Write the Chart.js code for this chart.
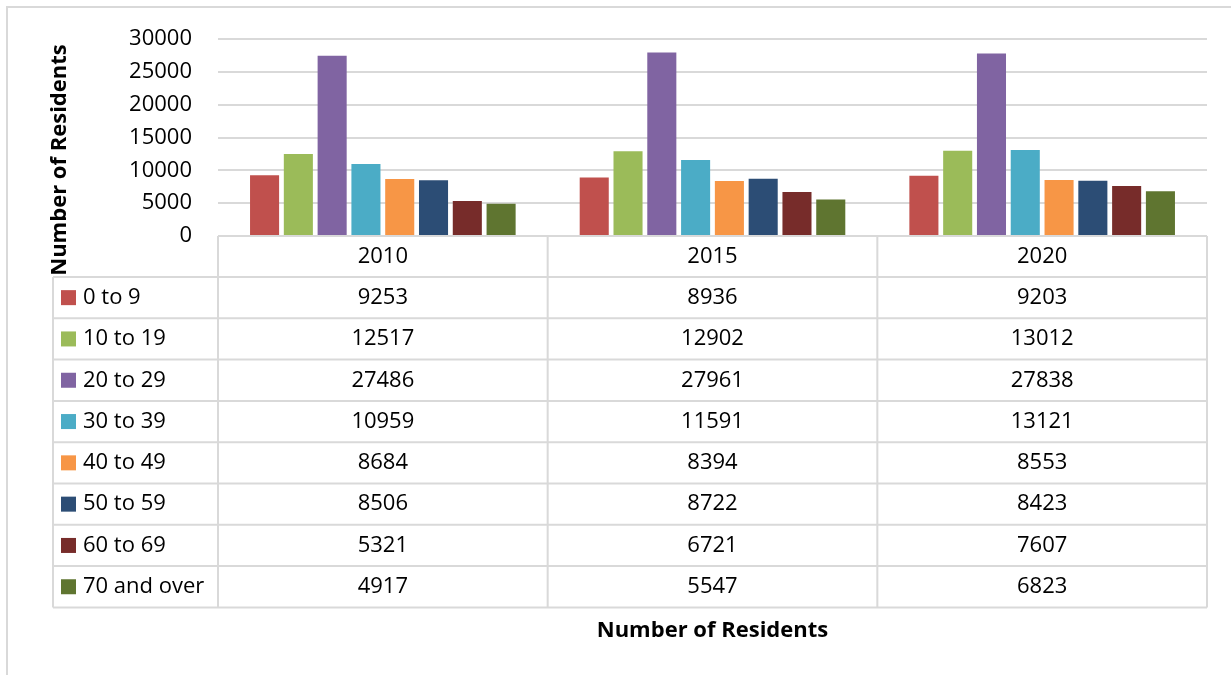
<!DOCTYPE html>
<html>
<head>
<meta charset="utf-8">
<script src="https://cdn.jsdelivr.net/npm/chart.js@4.4.0/dist/chart.umd.min.js"></script>
<style>
  html, body { margin: 0; padding: 0; background: #fff; }
  #wrap { position: relative; width: 1231px; height: 675px; }
</style>
</head>
<body>
<div id="wrap"><canvas id="chart" width="1231" height="675"></canvas></div>
<script>
// Data
const years = ['2010', '2015', '2020'];
const ageGroups = ['0 to 9', '10 to 19', '20 to 29', '30 to 39', '40 to 49', '50 to 59', '60 to 69', '70 and over'];
const age0to9 = [9253, 8936, 9203];
const age10to19 = [12517, 12902, 13012];
const age20to29 = [27486, 27961, 27838];
const age30to39 = [10959, 11591, 13121];
const age40to49 = [8684, 8394, 8553];
const age50to59 = [8506, 8722, 8423];
const age60to69 = [5321, 6721, 7607];
const age70plus = [4917, 5547, 6823];
const yTicks = [0, 5000, 10000, 15000, 20000, 25000, 30000];

const seriesValues = [age0to9, age10to19, age20to29, age30to39, age40to49, age50to59, age60to69, age70plus];
const colors = ['#C0504D', '#9BBB59', '#8064A2', '#4BACC6', '#F79646', '#2C4D75', '#772C2A', '#5F7530'];

const FONT = '"Open Sans", sans-serif';
const FS = 22;
const GRID = '#d9d9d9';

// Draws the data table, axis titles and outer border
const tablePlugin = {
    id: 'dataTable',
    afterDraw(chart) {
        const ctx = chart.ctx;
        const area = chart.chartArea;
        const x = chart.scales.x;
        const left = area.left, right = area.right;
        const colW = (right - left) / years.length;
        const legendLeft = 53;
        const top = area.bottom;
        const headH = 41;
        const rowH = 41.3;
        const bottom = top + headH + rowH * ageGroups.length;

        ctx.save();
        ctx.strokeStyle = GRID;
        ctx.lineWidth = 2;

        // horizontal lines
        ctx.beginPath();
        ctx.moveTo(left, top); ctx.lineTo(right, top);
        for (let i = 0; i <= ageGroups.length; i++) {
            const y = top + headH + rowH * i;
            ctx.moveTo(legendLeft, y); ctx.lineTo(right, y);
        }
        // vertical lines
        for (let c = 0; c <= years.length; c++) {
            const xx = left + colW * c;
            ctx.moveTo(xx, top); ctx.lineTo(xx, bottom);
        }
        ctx.moveTo(legendLeft, top + headH); ctx.lineTo(legendLeft, bottom);
        ctx.stroke();

        ctx.fillStyle = '#000';
        ctx.font = FS + 'px ' + FONT;
        ctx.textBaseline = 'middle';
        ctx.textAlign = 'center';
        years.forEach((yr, c) => {
            ctx.fillText(yr, x.getPixelForValue(c), top + headH / 2);
        });

        ageGroups.forEach((g, r) => {
            const cy = top + headH + rowH * r + rowH / 2;
            ctx.fillStyle = colors[r];
            ctx.fillRect(61, cy - 7.5, 15, 15);
            ctx.fillStyle = '#000';
            ctx.textAlign = 'left';
            ctx.fillText(g, 83, cy);
            ctx.textAlign = 'center';
            seriesValues[r].forEach((v, c) => {
                ctx.fillText(String(v), x.getPixelForValue(c), cy);
            });
        });

        // axis titles
        ctx.font = 'bold ' + FS + 'px ' + FONT;
        ctx.fillText('Number of Residents', (left + right) / 2, 631);
        ctx.save();
        ctx.translate(60, 160);
        ctx.rotate(-Math.PI / 2);
        ctx.fillText('Number of Residents', 0, 0);
        ctx.restore();

        // outer chart border
        ctx.strokeStyle = GRID;
        ctx.lineWidth = 2;
        ctx.beginPath();
        ctx.moveTo(7, 675); ctx.lineTo(7, 7); ctx.lineTo(1231, 7);
        ctx.stroke();
        ctx.restore();
    }
};

new Chart(document.getElementById('chart'), {
    type: 'bar',
    data: {
        labels: years,
        datasets: ageGroups.map((g, i) => ({
            label: g,
            data: seriesValues[i],
            backgroundColor: colors[i],
            borderWidth: 0,
            categoryPercentage: 0.82,
            barPercentage: 0.86
        }))
    },
    options: {
        responsive: false,
        animation: false,
        layout: { padding: { top: 36, right: 24, bottom: 439, left: 0 } },
        plugins: {
            legend: { display: false },
            tooltip: { enabled: false }
        },
        scales: {
            x: { display: false },
            y: {
                min: 0,
                max: 30000,
                afterFit(scale) { scale.width = 218; },
                afterBuildTicks(scale) { scale.ticks = yTicks.map(v => ({ value: v })); },
                border: { display: false },
                grid: { color: GRID, lineWidth: 2, drawTicks: false },
                ticks: {
                    color: '#000',
                    padding: 26,
                    font: { family: FONT, size: FS },
                    callback: v => String(v)
                }
            }
        }
    },
    plugins: [tablePlugin]
});
</script>
</body>
</html>
